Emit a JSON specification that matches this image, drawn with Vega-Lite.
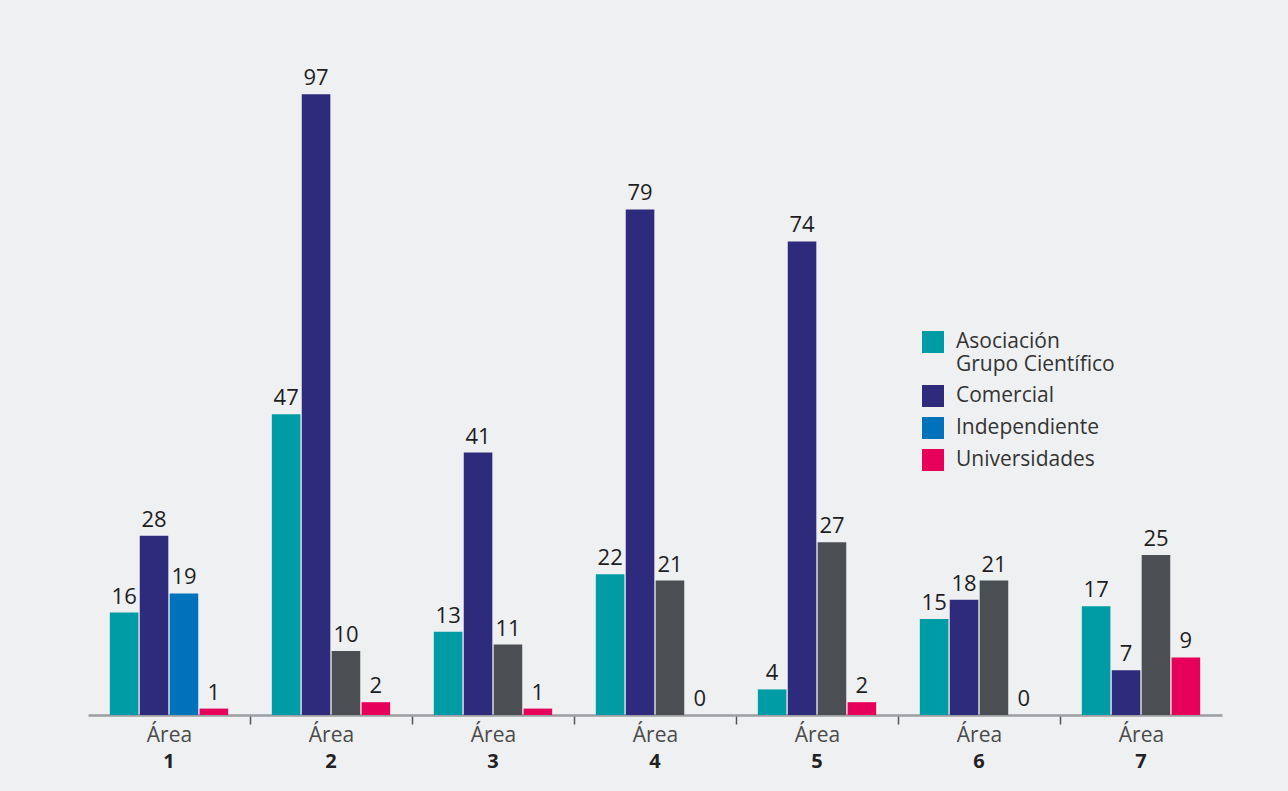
{
  "$schema": "https://vega.github.io/schema/vega-lite/v6.json",
  "autosize": {"type": "none"},
  "padding": {"left": 88, "top": 43, "right": 66, "bottom": 76},
  "width": 1134,
  "height": 672,
  "background": "#eff0f2",
  "config": {
    "view": {"stroke": null},
    "font": "Open Sans"
  },
  "data": {
    "values": [
      {"area": "1", "tipo": "Asociación Grupo Científico", "color": "Asociación Grupo Científico", "valor": 16},
      {"area": "1", "tipo": "Comercial", "color": "Comercial", "valor": 28},
      {"area": "1", "tipo": "Independiente", "color": "Independiente", "valor": 19},
      {"area": "1", "tipo": "Universidades", "color": "Universidades", "valor": 1},
      {"area": "2", "tipo": "Asociación Grupo Científico", "color": "Asociación Grupo Científico", "valor": 47},
      {"area": "2", "tipo": "Comercial", "color": "Comercial", "valor": 97},
      {"area": "2", "tipo": "Independiente", "color": "Otro", "valor": 10},
      {"area": "2", "tipo": "Universidades", "color": "Universidades", "valor": 2},
      {"area": "3", "tipo": "Asociación Grupo Científico", "color": "Asociación Grupo Científico", "valor": 13},
      {"area": "3", "tipo": "Comercial", "color": "Comercial", "valor": 41},
      {"area": "3", "tipo": "Independiente", "color": "Otro", "valor": 11},
      {"area": "3", "tipo": "Universidades", "color": "Universidades", "valor": 1},
      {"area": "4", "tipo": "Asociación Grupo Científico", "color": "Asociación Grupo Científico", "valor": 22},
      {"area": "4", "tipo": "Comercial", "color": "Comercial", "valor": 79},
      {"area": "4", "tipo": "Independiente", "color": "Otro", "valor": 21},
      {"area": "4", "tipo": "Universidades", "color": "Universidades", "valor": 0},
      {"area": "5", "tipo": "Asociación Grupo Científico", "color": "Asociación Grupo Científico", "valor": 4},
      {"area": "5", "tipo": "Comercial", "color": "Comercial", "valor": 74},
      {"area": "5", "tipo": "Independiente", "color": "Otro", "valor": 27},
      {"area": "5", "tipo": "Universidades", "color": "Universidades", "valor": 2},
      {"area": "6", "tipo": "Asociación Grupo Científico", "color": "Asociación Grupo Científico", "valor": 15},
      {"area": "6", "tipo": "Comercial", "color": "Comercial", "valor": 18},
      {"area": "6", "tipo": "Independiente", "color": "Otro", "valor": 21},
      {"area": "6", "tipo": "Universidades", "color": "Universidades", "valor": 0},
      {"area": "7", "tipo": "Asociación Grupo Científico", "color": "Asociación Grupo Científico", "valor": 17},
      {"area": "7", "tipo": "Comercial", "color": "Comercial", "valor": 7},
      {"area": "7", "tipo": "Independiente", "color": "Otro", "valor": 25},
      {"area": "7", "tipo": "Universidades", "color": "Universidades", "valor": 9}
    ]
  },
  "encoding": {
    "x": {"field": "area", "type": "nominal", "sort": null, "scale": {"paddingInner": 0, "paddingOuter": 0}},
    "xOffset": {"field": "tipo", "type": "nominal", "sort": ["Asociación Grupo Científico", "Comercial", "Independiente", "Universidades"], "scale": {"paddingInner": 0.045, "paddingOuter": 0.73}},
    "y": {"field": "valor", "type": "quantitative", "scale": {"domain": [0, 105]}, "axis": null}
  },
  "layer": [
    {
      "mark": {"type": "bar"},
      "encoding": {
        "x": {
          "field": "area", "type": "nominal", "sort": null,
          "axis": {
            "title": null,
            "orient": "bottom",
            "labelAngle": 0,
            "labelExpr": "(datum.extra || datum.index > 1) ? '' : 'Área'",
            "labelFontSize": 21,
            "labelColor": "#4a4a4a",
            "labelPadding": 0,
            "domainColor": "#9d9ea2",
            "domainWidth": 2.5,
            "tickBand": "extent",
            "tickColor": "#555555",
            "tickWidth": 1.5,
            "tickSize": 9,
            "tickOpacity": {"condition": {"test": "datum.extra || datum.index > 1 || datum.value === '7'", "value": 0}, "value": 1}
          }
        },
        "color": {
          "field": "color", "type": "nominal",
          "scale": {
            "domain": ["Asociación Grupo Científico", "Comercial", "Independiente", "Universidades", "Otro"],
            "range": ["#009ca6", "#2e2a7c", "#0072bc", "#e6005a", "#4b4f53"]
          },
          "legend": {
            "values": ["Asociación Grupo Científico", "Comercial", "Independiente", "Universidades"],
            "title": null,
            "orient": "none",
            "legendX": 834,
            "legendY": 288,
            "symbolType": "square",
            "symbolSize": 484,
            "symbolStrokeWidth": 0,
            "symbolOpacity": 1,
            "labelFont": "Open Sans",
            "labelFontSize": 21,
            "labelColor": "#333333",
            "labelOffset": 12,
            "labelLimit": 300,
            "rowPadding": 10,
            "labelExpr": "datum.label == 'Asociación Grupo Científico' ? ['Asociación', 'Grupo Científico'] : datum.label"
          }
        }
      }
    },
    {
      "mark": {"type": "text", "baseline": "alphabetic", "dy": -9, "fontSize": 22, "color": "#1e1e1e"},
      "encoding": {
        "x": {
          "field": "area", "type": "nominal", "sort": null,
          "axis": {
            "title": null,
            "orient": "bottom",
            "labelAngle": 0,
            "domain": false,
            "ticks": false,
            "tickSize": 0,
            "labelPadding": 36,
            "labelFontSize": 20,
            "labelFontWeight": "bold",
            "labelColor": "#222222"
          }
        },
        "text": {"field": "valor", "type": "quantitative"}
      }
    }
  ],
  "resolve": {"axis": {"x": "independent"}}
}
